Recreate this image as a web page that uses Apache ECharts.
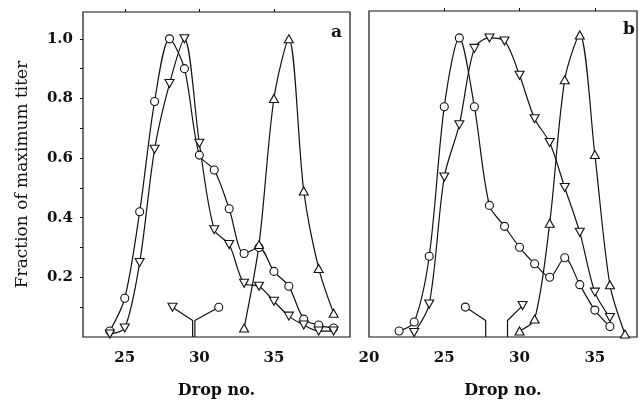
<!DOCTYPE html>
<html>
<head>
<meta charset="utf-8">
<title>Drop no.</title>
<script src="https://cdn.jsdelivr.net/npm/echarts@6/dist/echarts.min.js"></script>
<style>
  html, body { margin: 0; padding: 0; background: #fff; }
  #main { width: 639px; height: 404px; }
</style>
</head>
<body>
<div id="main"></div>
<script>
// panel a
const dropsA = [24, 25, 26, 27, 28, 29, 30, 31, 32, 33, 34, 35, 36, 37, 38, 39]
const aCircle = [0.02, 0.13, 0.42, 0.79, 1.0, 0.90, 0.61, 0.56, 0.43, 0.28, 0.30, 0.22, 0.17, 0.06, 0.04, 0.03]
const aDown = [0.01, 0.03, 0.25, 0.63, 0.85, 1.0, 0.65, 0.36, 0.31, 0.18, 0.17, 0.12, 0.07, 0.04, 0.02, 0.02]
const dropsAUp = [33, 34, 35, 36, 37, 38, 39]
const aUp = [0.03, 0.31, 0.80, 1.0, 0.49, 0.23, 0.08]

// panel b
const dropsB = [22, 23, 24, 25, 26, 27, 28, 29, 30, 31, 32, 33, 34, 35, 36]
const bCircle = [0.02, 0.05, 0.27, 0.77, 1.0, 0.77, 0.44, 0.37, 0.30, 0.245, 0.20, 0.265, 0.175, 0.09, 0.035]
const dropsBDown = [23, 24, 25, 26, 27, 28, 29, 30, 31, 32, 33, 34, 35, 36]
const bDown = [0.015, 0.11, 0.535, 0.71, 0.965, 1.0, 0.99, 0.875, 0.73, 0.65, 0.50, 0.35, 0.15, 0.065]
const dropsBUp = [30, 31, 32, 33, 34, 35, 36, 37]
const bUp = [0.02, 0.06, 0.38, 0.86, 1.01, 0.61, 0.175, 0.01]

// peak position marks near the bottom axis (marker, elbow, foot)
const aMarkDown = [[28.2, 0.10], [29.55, 0.055], [29.55, 0]]
const aMarkCircle = [[31.3, 0.10], [29.7, 0.055], [29.7, 0]]
const bMarkCircle = [[26.4, 0.10], [27.75, 0.055], [27.75, 0]]
const bMarkDown = [[30.2, 0.105], [29.2, 0.055], [29.2, 0]]

const xTicks = [20, 25, 30, 35]
const yTicks = [0.2, 0.4, 0.6, 0.8, 1.0]
const yMinor = [0.1, 0.2, 0.3, 0.4, 0.5, 0.6, 0.7, 0.8, 0.9, 1.0]

const ink = '#111'
const font = 'DejaVu Serif'

function pairs(xs, ys) {
    return xs.map((x, i) => [x, ys[i]])
}

const circleStyle = {
    symbol: 'circle', symbolSize: 8, symbolRotate: 0
}
const downStyle = {
    symbol: 'triangle', symbolSize: [9, 8], symbolRotate: 180
}
const upStyle = {
    symbol: 'triangle', symbolSize: [9, 8], symbolRotate: 0
}

function curve(idx, data, mark) {
    return Object.assign({
        type: 'line',
        xAxisIndex: idx,
        yAxisIndex: idx,
        data: data,
        smooth: 0.3,
        showSymbol: true,
        lineStyle: { color: ink, width: 1.2 },
        itemStyle: { color: '#fff', borderColor: ink, borderWidth: 1.1 },
        z: 3
    }, mark)
}

// only the first point of a peak mark carries a symbol
function peakMark(idx, data, mark) {
    const s = curve(idx, data, mark)
    s.smooth = false
    s.symbolSize = (v, p) => p.dataIndex === 0 ? mark.symbolSize : 0
    return s
}

function bottomAxis(idx, min, max, labels) {
    return {
        type: 'value', gridIndex: idx, position: 'bottom',
        min: min, max: max,
        splitLine: { show: false },
        axisLine: { show: false },
        axisTick: { show: false },
        axisLabel: {
            customValues: labels, margin: 14,
            color: ink, fontFamily: font, fontWeight: 'bold', fontSize: 15
        },
        name: 'Drop no.', nameLocation: 'middle', nameGap: 46,
        nameTextStyle: { color: ink, fontFamily: font, fontWeight: 'bold', fontSize: 16 }
    }
}

function topAxis(idx, min, max) {
    return {
        type: 'value', gridIndex: idx, position: 'top',
        min: min, max: max,
        splitLine: { show: false },
        axisLine: { show: false },
        axisLabel: { show: false },
        axisTick: { show: true, customValues: [25, 30, 35], length: 3, lineStyle: { color: ink } }
    }
}

const chart = echarts.init(document.getElementById('main'), null, { renderer: 'canvas' })

var option = {
    animation: false,
    backgroundColor: '#fff',
    title: [
        { text: 'a', left: 326, top: 19, textStyle: { color: ink, fontFamily: font, fontWeight: 'bold', fontSize: 17 } },
        { text: 'b', left: 618, top: 16, textStyle: { color: ink, fontFamily: font, fontWeight: 'bold', fontSize: 17 } }
    ],
    grid: [
        { left: 83, top: 12, width: 267, height: 327, show: true, borderColor: ink, borderWidth: 1.2, backgroundColor: 'transparent' },
        { left: 369, top: 11, width: 268, height: 328, show: true, borderColor: ink, borderWidth: 1.2, backgroundColor: 'transparent' }
    ],
    xAxis: [
        bottomAxis(0, 22.2, 40.1, [25, 30, 35]),
        bottomAxis(1, 20, 37.8, xTicks),
        Object.assign(topAxis(0, 22.2, 40.1), { gridIndex: 0 }),
        Object.assign(topAxis(1, 20, 37.8), { gridIndex: 1 })
    ],
    yAxis: [
        {
            type: 'value', gridIndex: 0, min: 0, max: 1.09,
            splitLine: { show: false },
            axisLine: { show: false },
            axisTick: { show: true, inside: false, length: 3, customValues: yMinor, lineStyle: { color: ink } },
            axisLabel: {
                customValues: yTicks, margin: 10,
                formatter: v => v.toFixed(1),
                color: ink, fontFamily: font, fontWeight: 'bold', fontSize: 15
            },
            name: 'Fraction of maximum titer', nameLocation: 'middle', nameGap: 52,
            nameTextStyle: { color: ink, fontFamily: font, fontSize: 17 }
        },
        {
            type: 'value', gridIndex: 1, min: 0, max: 1.09,
            splitLine: { show: false },
            axisLine: { show: false },
            axisTick: { show: false },
            axisLabel: { show: false }
        }
    ],
    series: [
        curve(0, pairs(dropsA, aCircle), circleStyle),
        curve(0, pairs(dropsA, aDown), downStyle),
        curve(0, pairs(dropsAUp, aUp), upStyle),
        peakMark(0, aMarkDown, downStyle),
        peakMark(0, aMarkCircle, circleStyle),

        curve(1, pairs(dropsB, bCircle), circleStyle),
        curve(1, pairs(dropsBDown, bDown), downStyle),
        curve(1, pairs(dropsBUp, bUp), upStyle),
        peakMark(1, bMarkCircle, circleStyle),
        peakMark(1, bMarkDown, downStyle)
    ]
}

chart.setOption(option)
</script>
</body>
</html>
